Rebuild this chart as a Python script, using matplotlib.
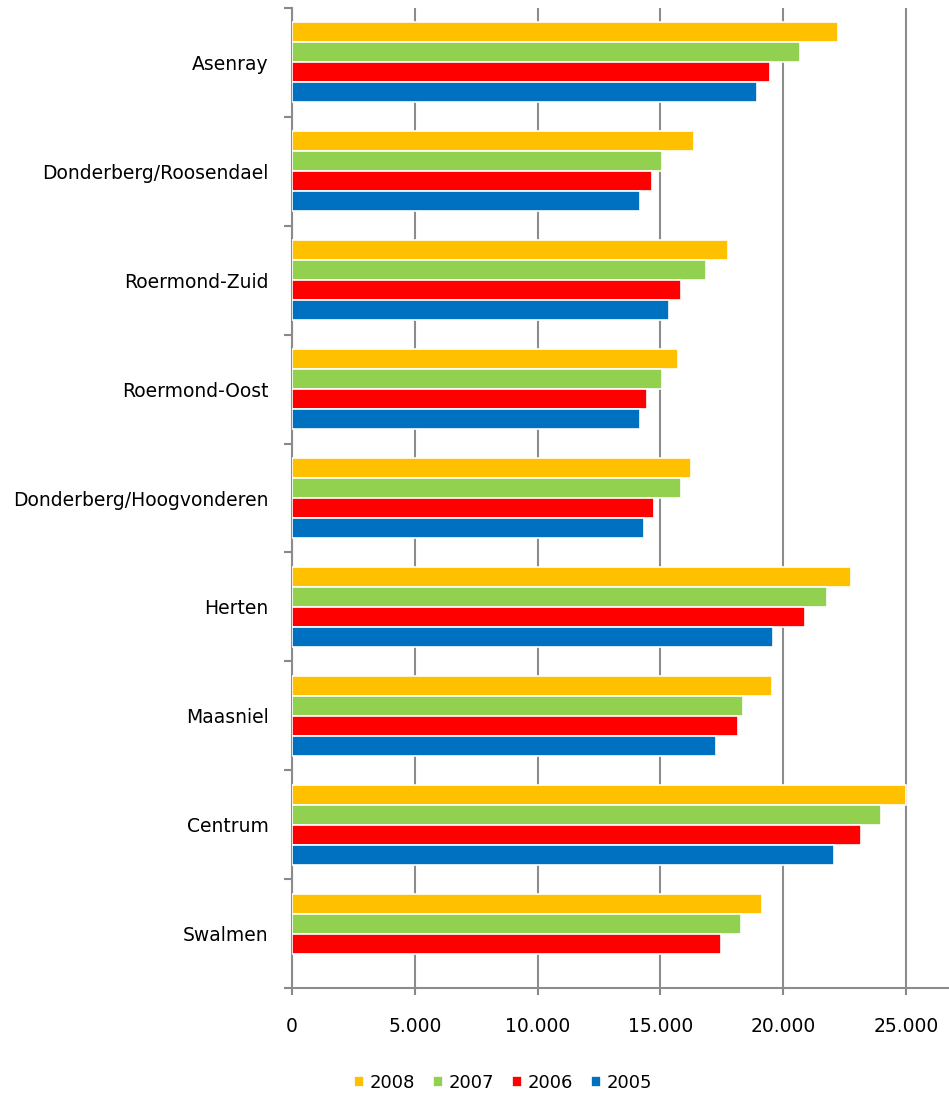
import numpy as np
import matplotlib
matplotlib.use("Agg")
import matplotlib.pyplot as plt
from matplotlib.ticker import FuncFormatter, FixedLocator

wijken = ["Asenray", "Donderberg/Roosendael", "Roermond-Zuid", "Roermond-Oost",
          "Donderberg/Hoogvonderen", "Herten", "Maasniel", "Centrum", "Swalmen"]
jaren = ["2008", "2007", "2006", "2005"]
v2008 = [22250, 16350, 17750, 15700, 16250, 22750, 19550, 25000, 19150]
v2007 = [20700, 15050, 16850, 15050, 15850, 21800, 18350, 24000, 18300]
v2006 = [19450, 14650, 15850, 14450, 14750, 20900, 18150, 23150, 17450]
v2005 = [18950, 14150, 15350, 14150, 14350, 19600, 17250, 22050, np.nan]
kleuren = ["#FFC000", "#92D050", "#FF0000", "#0070C0"]

plt.rcParams['font.family'] = ['DejaVu Sans']

fig = plt.figure(figsize=(9.49, 10.97), dpi=100)
ax = fig.add_axes([292 / 949, 1 - 988 / 1097, 1 - 292 / 949, (988 - 8) / 1097])

y = np.arange(len(wijken))
slot = 0.1837
for k, (jaar, vals, kleur) in enumerate(zip(jaren, [v2008, v2007, v2006, v2005], kleuren)):
    vals = np.array(vals, dtype=float)
    ok = ~np.isnan(vals)
    ax.barh(y[ok] + (k - 1.5) * slot, vals[ok], height=slot, color=kleur,
            edgecolor="white", linewidth=1.2, label=jaar, zorder=3)

ax.set_ylim(len(wijken) - 0.5, -0.5)
ax.set_xlim(0, 26750)

ax.set_yticks(y)
ax.set_yticklabels(wijken, fontsize=13.5)
ax.yaxis.set_minor_locator(FixedLocator(np.arange(-0.5, len(wijken), 1.0)))
ax.tick_params(axis="y", which="major", length=0, pad=17)
ax.tick_params(axis="y", which="minor", length=6, width=1.5, color="#888888")

ax.set_xticks(np.arange(0, 25001, 5000))
ax.xaxis.set_major_formatter(FuncFormatter(lambda v, p: "{:,.0f}".format(v).replace(",", ".")))
ax.tick_params(axis="x", length=5, width=1.5, color="#888888", labelsize=13.5, pad=16)
ax.grid(axis="x", color="#8c8c8c", linewidth=1.5, zorder=0)

for s in ["top", "right"]:
    ax.spines[s].set_visible(False)
for s in ["left", "bottom"]:
    ax.spines[s].set_color("#8c8c8c")
    ax.spines[s].set_linewidth(1.5)

fig.legend(loc="center", bbox_to_anchor=(503 / 949, 1 - 1083 / 1097), ncol=4,
           frameon=False, fontsize=13, handlelength=0.55, handleheight=0.55,
           handletextpad=0.3, columnspacing=1.0)

fig.savefig("out.png", dpi=100)
